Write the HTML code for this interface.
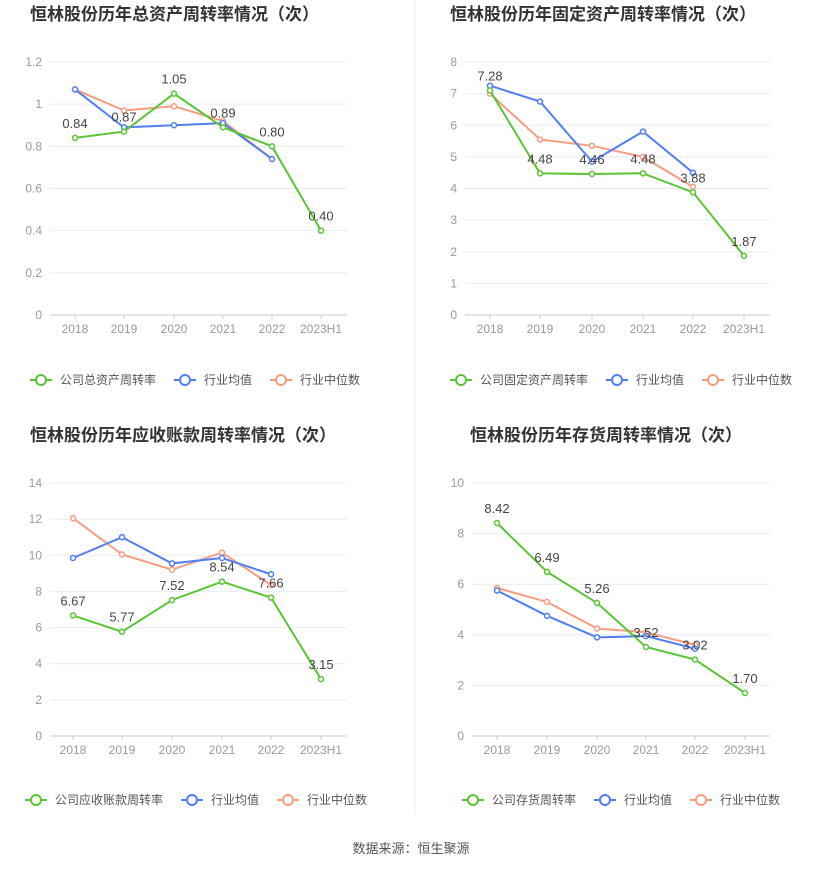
<!DOCTYPE html>
<html><head><meta charset="utf-8"><style>
body{margin:0;background:#fff;font-family:"Liberation Sans","Noto Sans CJK SC",sans-serif;}
svg text{font-family:"Liberation Sans","Noto Sans CJK SC",sans-serif;}
</style></head><body>
<svg id="s" width="823" height="870" xmlns="http://www.w3.org/2000/svg"></svg>
<script>
const G='#5ac534',B='#4f7ff0',O='#f89c80';
const charts=[
 {t:'恒林股份历年总资产周转率情况（次）',tx:30,ty:20,x:[75,124,174,223,272,321],gx0:50,gx1:347,y0:315,yT:62,max:1.2,
  ticks:['0','0.2','0.4','0.6','0.8','1','1.2'],
  c:[.84,.87,1.05,.89,.80,.40],lab:['0.84','0.87','1.05','0.89','0.80','0.40'],
  b:[1.07,.89,.90,.91,.74],o:[1.07,.97,.99,.92,.74],leg:'公司总资产周转率',ly:380,lx:30},
 {t:'恒林股份历年固定资产周转率情况（次）',tx:450,ty:20,x:[490,540,592,643,693,744],gx0:465,gx1:770,y0:315,yT:62,max:8,
  ticks:['0','1','2','3','4','5','6','7','8'],
  c:[7.1,4.48,4.46,4.48,3.88,1.87],lab:['7.28','4.48','4.46','4.48','3.88','1.87'],
  b:[7.25,6.75,4.85,5.8,4.5],o:[7.0,5.55,5.35,5.0,4.05],leg:'公司固定资产周转率',ly:380,lx:450},
 {t:'恒林股份历年应收账款周转率情况（次）',tx:30,ty:441,x:[73,122,172,222,271,321],gx0:50,gx1:347,y0:736,yT:483,max:14,
  ticks:['0','2','4','6','8','10','12','14'],
  c:[6.67,5.77,7.52,8.54,7.66,3.15],lab:['6.67','5.77','7.52','8.54','7.66','3.15'],
  b:[9.85,11.0,9.55,9.85,8.95],o:[12.05,10.05,9.2,10.15,8.35],leg:'公司应收账款周转率',ly:800,lx:25},
 {t:'恒林股份历年存货周转率情况（次）',tx:470,ty:441,x:[497,547,597,646,695,745],gx0:472,gx1:770,y0:736,yT:483,max:10,
  ticks:['0','2','4','6','8','10'],
  c:[8.42,6.49,5.26,3.52,3.02,1.70],lab:['8.42','6.49','5.26','3.52','3.02','1.70'],
  b:[5.75,4.75,3.9,3.95,3.45],o:[5.85,5.3,4.25,4.1,3.6],leg:'公司存货周转率',ly:800,lx:462}
];
const yrs=['2018','2019','2020','2021','2022','2023H1'];
let h='<line x1="415" y1="0" x2="415" y2="815" stroke="#eee"/>';
for(const c of charts){
 h+=`<text x="${c.tx}" y="${c.ty}" font-size="17" font-weight="bold" fill="#333">${c.t}</text>`;
 const n=c.ticks.length-1;
 c.ticks.forEach((t,i)=>{const y=c.y0-(c.y0-c.yT)*i/n;
  h+=`<line x1="${c.gx0}" x2="${c.gx1}" y1="${y}" y2="${y}" stroke="${i?'#e8ebf2':'#ccc'}"/>`;
  h+=`<text x="${c.gx0-8}" y="${y+4}" font-size="12" fill="#999" text-anchor="end">${t}</text>`;});
 c.x.forEach((x,i)=>{h+=`<line x1="${x}" x2="${x}" y1="${c.y0}" y2="${c.y0+4}" stroke="#ccc"/><text x="${x}" y="${c.y0+18}" font-size="12" fill="#999" text-anchor="middle">${yrs[i]}</text>`;});
 const Y=v=>c.y0-(c.y0-c.yT)*v/c.max;
 const line=(d,col)=>{h+=`<polyline fill="none" stroke="${col}" stroke-width="2" points="${d.map((v,i)=>c.x[i]+','+Y(v)).join(' ')}"/>`;
  d.forEach((v,i)=>h+=`<circle cx="${c.x[i]}" cy="${Y(v)}" r="2.5" fill="#fff" stroke="${col}" stroke-width="1.5"/>`);};
 line(c.o,O);line(c.b,B);line(c.c,G);
 c.c.forEach((v,i)=>h+=`<text x="${c.x[i]}" y="${Y(v)-10}" font-size="13" fill="#444" text-anchor="middle">${c.lab[i]}</text>`);
 let lx=c.lx;
 const leg=(col,txt)=>{h+=`<line x1="${lx}" x2="${lx+22}" y1="${c.ly}" y2="${c.ly}" stroke="${col}" stroke-width="2"/><circle cx="${lx+11}" cy="${c.ly}" r="5" fill="#fff" stroke="${col}" stroke-width="2"/><text x="${lx+30}" y="${c.ly+4}" font-size="12" fill="#555">${txt}</text>`;lx+=30+txt.length*12+18;};
 leg(G,c.leg);leg(B,'行业均值');leg(O,'行业中位数');
}
h+='<text x="411" y="853" font-size="13" fill="#555" text-anchor="middle">数据来源：恒生聚源</text>';
document.getElementById('s').innerHTML=h;
</script>
</body></html>
